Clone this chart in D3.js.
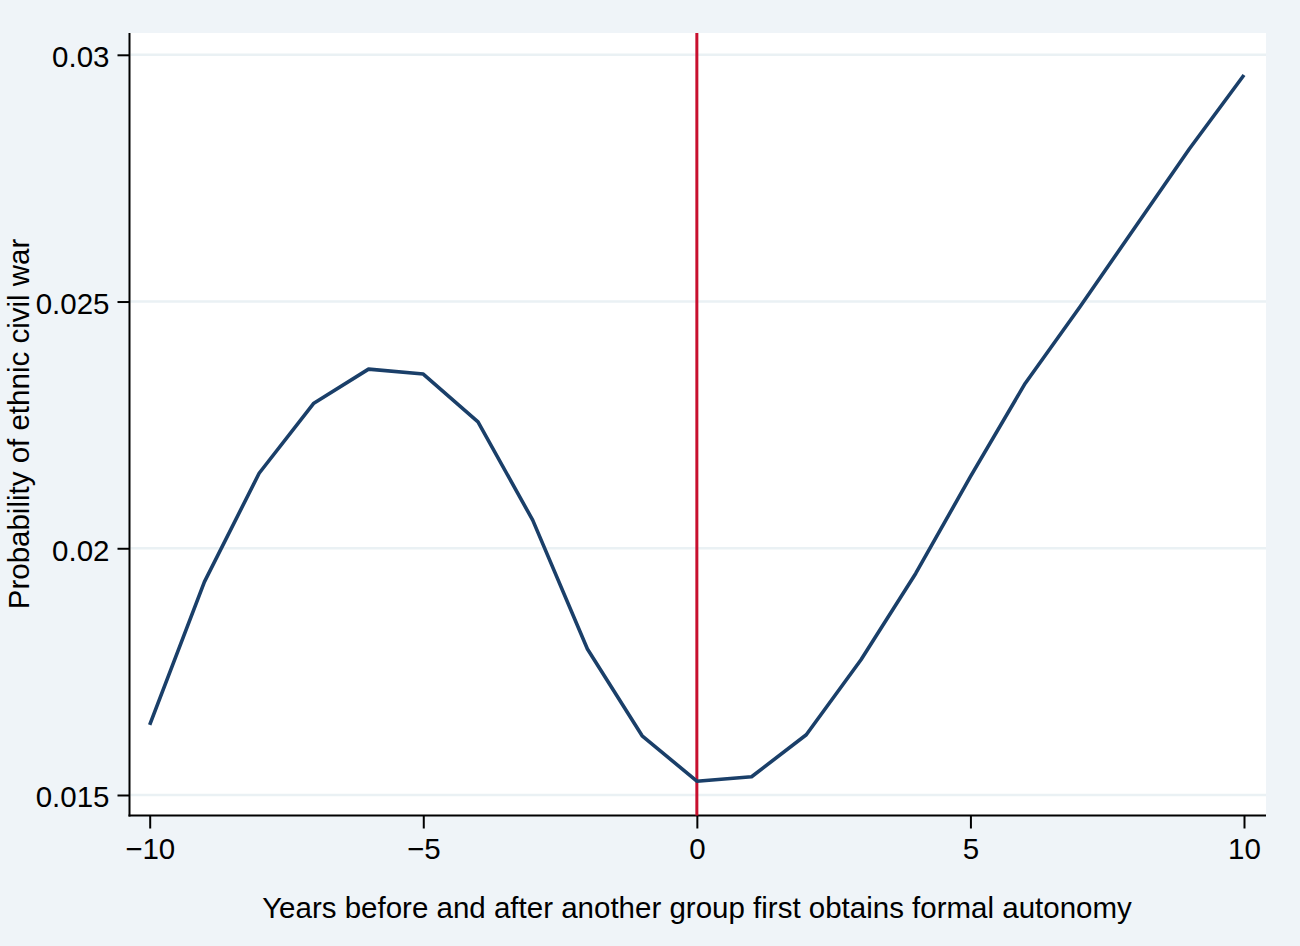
<!DOCTYPE html>
<html>
<head>
<meta charset="utf-8">
<script src="https://cdn.jsdelivr.net/npm/d3@7"></script>
<style>
  html, body { margin: 0; padding: 0; background: #eff4f8; }
  svg { display: block; }
  text { font-family: "Liberation Sans", Arial, Helvetica, sans-serif; fill: #000; }
</style>
</head>
<body>
<svg id="chart" width="1300" height="946"></svg>
<script>
// ---- data ----
const years = [-10, -9, -8, -7, -6, -5, -4, -3, -2, -1, 0, 1, 2, 3, 4, 5, 6, 7, 8, 9, 10];
const probability = [0.01642, 0.01932, 0.02152, 0.02294, 0.02363, 0.02353, 0.02256, 0.02057, 0.01796, 0.01620, 0.01528,
                     0.01537, 0.01622, 0.01774, 0.01949, 0.02145, 0.02334, 0.02489, 0.02649, 0.02809, 0.02959];
const xTicks = [-10, -5, 0, 5, 10];
const xTickLabels = ["\u221210", "\u22125", "0", "5", "10"];
const yTicks = [0.015, 0.02, 0.025, 0.03];
const yTickLabels = ["0.015", "0.02", "0.025", "0.03"];
const eventYear = [0];
const xTitle = "Years before and after another group first obtains formal autonomy";
const yTitle = "Probability of ethnic civil war";

// ---- layout ----
const svg = d3.select("#chart");
const W = 1300, H = 946;
const plot = { left: 129.5, right: 1266, top: 33, bottom: 815.5 };
const FS = "29.5px";

svg.append("rect").attr("width", W).attr("height", H).attr("fill", "#eff4f8");
svg.append("rect")
  .attr("x", plot.left).attr("y", plot.top)
  .attr("width", plot.right - plot.left).attr("height", plot.bottom - plot.top)
  .attr("fill", "#ffffff");

const x = d3.scaleLinear().domain([-10, 10]).range([149.7, 1244]);
const y = d3.scaleLinear().domain([0.015, 0.03]).range([795, 54.8]);

// gridlines
svg.append("g").selectAll("line").data(yTicks).join("line")
  .attr("x1", plot.left + 1).attr("x2", plot.right)
  .attr("y1", d => y(d)).attr("y2", d => y(d))
  .attr("stroke", "#eaf1f4").attr("stroke-width", 2.5);

// y axis
const yAxis = d3.axisLeft(y).tickValues(yTicks)
  .tickFormat((d, i) => yTickLabels[i]).tickSize(12).tickPadding(8).tickSizeOuter(0);
const gy = svg.append("g").attr("transform", `translate(${plot.left},0)`).call(yAxis);
gy.select(".domain").remove();
gy.selectAll(".tick line").attr("stroke", "#000").attr("stroke-width", 2);
gy.selectAll(".tick text").style("font-size", FS).attr("dy", "0.4em")
  .style("font-family", "'Liberation Sans', Arial, sans-serif");

// x axis
const xAxis = d3.axisBottom(x).tickValues(xTicks)
  .tickFormat((d, i) => xTickLabels[i]).tickSize(13).tickPadding(9.5).tickSizeOuter(0);
const gx = svg.append("g").attr("transform", `translate(0,${plot.bottom})`).call(xAxis);
gx.select(".domain").remove();
gx.selectAll(".tick line").attr("stroke", "#000").attr("stroke-width", 2);
gx.selectAll(".tick text").style("font-size", FS)
  .style("font-family", "'Liberation Sans', Arial, sans-serif");

// axis lines
svg.append("line").attr("x1", plot.left).attr("x2", plot.left)
  .attr("y1", plot.top).attr("y2", plot.bottom + 1)
  .attr("stroke", "#000").attr("stroke-width", 2);
svg.append("line").attr("x1", plot.left - 1).attr("x2", plot.right)
  .attr("y1", plot.bottom).attr("y2", plot.bottom)
  .attr("stroke", "#000").attr("stroke-width", 2);

// event line
svg.append("g").selectAll("line").data(eventYear).join("line")
  .attr("x1", d => x(d)).attr("x2", d => x(d))
  .attr("y1", plot.top).attr("y2", plot.bottom)
  .attr("stroke", "#c8102e").attr("stroke-width", 3);

// data line
const pts = years.map((yr, i) => [yr, probability[i]]);
svg.append("path").datum(pts)
  .attr("fill", "none").attr("stroke", "#1a3f69").attr("stroke-width", 3.6)
  .attr("stroke-linejoin", "round")
  .attr("d", d3.line().x(d => x(d[0])).y(d => y(d[1])));

// titles
svg.append("text").attr("x", 697).attr("y", 918).attr("text-anchor", "middle")
  .style("font-size", FS).text(xTitle);
svg.append("text").attr("transform", "translate(29,424) rotate(-90)").attr("text-anchor", "middle")
  .style("font-size", FS).text(yTitle);
</script>
</body>
</html>
